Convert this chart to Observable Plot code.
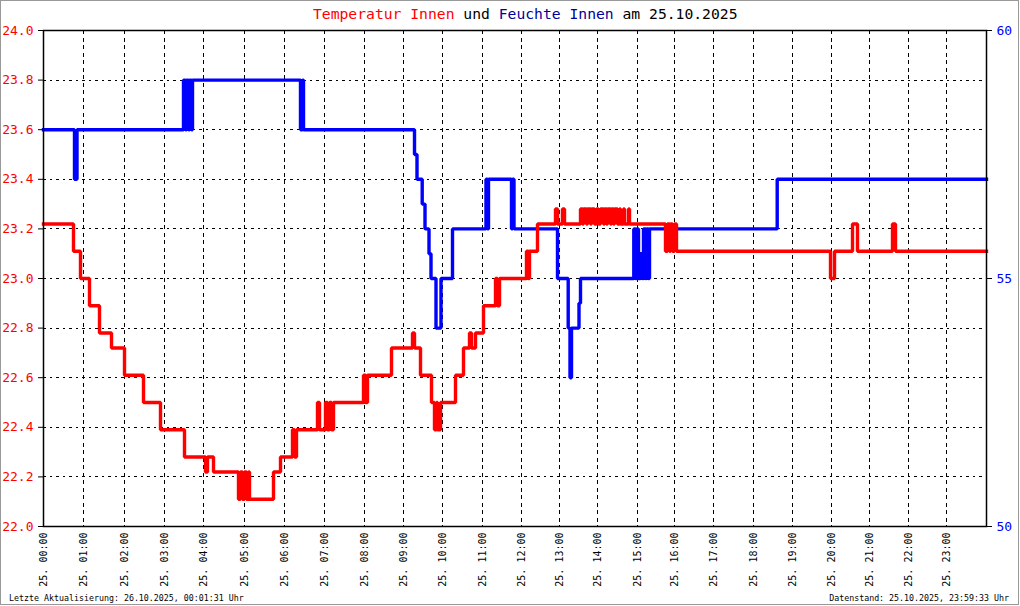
<!DOCTYPE html>
<html><head><meta charset="utf-8">
<script src="https://cdn.jsdelivr.net/npm/d3@7"></script>
<script src="https://cdn.jsdelivr.net/npm/@observablehq/plot@0.6"></script>
<style>
html,body{margin:0;padding:0;background:#fff;}
#wrap{position:relative;width:1020px;height:606px;overflow:hidden;font-family:"DejaVu Sans Mono",monospace;background:#fff;}
#border{position:absolute;left:0;top:0;width:1019px;height:605px;box-sizing:border-box;border:1px solid #999;pointer-events:none;}
#title{position:absolute;left:313px;top:6px;font-size:14.7px;line-height:15px;white-space:pre;color:#000;}
.foot{position:absolute;top:594px;font-size:8.3px;line-height:9px;white-space:pre;color:#000;}
#chart{position:absolute;left:0;top:0;}
</style></head><body>
<div id="wrap">
<div id="chart"></div>
<div id="title"><span style="color:#ff0000">Temperatur Innen</span> und <span style="color:#00009c">Feuchte Innen</span> am 25.10.2025</div>
<div class="foot" style="left:9px">Letzte Aktualisierung: 26.10.2025, 00:01:31 Uhr</div>
<div class="foot" style="right:11px">Datenstand: 25.10.2025, 23:59:33 Uhr</div>
<div id="border"></div>
</div>
<script>
// x = sample number (Messwert-Nr.) of the day; hour ticks sit at the first sample of each hour
const sampleCount = 943;
const hourTickIdx = [0, 40, 81, 121, 160, 201, 241, 281, 321, 360, 399, 439, 478, 516, 554, 594, 631, 670, 710, 749, 788, 826, 865, 903];
const hourLabels = ["25. 00:00","25. 01:00","25. 02:00","25. 03:00","25. 04:00","25. 05:00","25. 06:00","25. 07:00","25. 08:00","25. 09:00","25. 10:00","25. 11:00","25. 12:00","25. 13:00","25. 14:00","25. 15:00","25. 16:00","25. 17:00","25. 18:00","25. 19:00","25. 20:00","25. 21:00","25. 22:00","25. 23:00"];

// Temperatur Innen (°C) — change points (sample number, value)
const tempIdx = [
  0,30,37,46,56,68,81,100,117,141,
  162,164,170,195,197,199,201,203,205,206,
  230,237,249,251,253,274,276,282,284,286,
  288,290,320,322,324,348,369,371,377,388,
  391,393,394,397,412,420,426,428,432,440,
  452,454,456,483,485,486,494,512,514,519,
  521,537,539,540,543,544,547,548,551,553,
  555,557,560,561,563,564,567,568,570,571,
  574,576,577,580,581,585,586,622,624,626,
  627,629,631,633,787,791,809,814,849,852,
  943];
const tempVal = [
  23.22,23.11,23.00,22.89,22.78,22.72,22.61,22.50,22.39,22.28,
  22.22,22.28,22.22,22.11,22.22,22.11,22.22,22.11,22.22,22.11,
  22.22,22.28,22.39,22.28,22.39,22.50,22.39,22.50,22.39,22.50,
  22.39,22.50,22.61,22.50,22.61,22.72,22.78,22.72,22.61,22.50,
  22.39,22.50,22.39,22.50,22.61,22.72,22.78,22.72,22.78,22.89,
  23.00,22.89,23.00,23.11,23.00,23.11,23.22,23.28,23.22,23.28,
  23.22,23.28,23.22,23.28,23.22,23.28,23.22,23.28,23.22,23.28,
  23.22,23.28,23.22,23.28,23.22,23.28,23.22,23.28,23.22,23.28,
  23.22,23.28,23.22,23.28,23.22,23.28,23.22,23.11,23.22,23.11,
  23.22,23.11,23.22,23.11,23.00,23.11,23.22,23.11,23.22,23.11,
  23.11];

// Feuchte Innen (%) — change points (sample number, value)
const humIdx = [
  0,31,33.5,140,142,143,145,146,148,149,
  257,259,260,371,373.5,378.7,381.5,385.5,387.5,392.5,
  397.5,409,442.5,444,445,468,469,470.5,514,524.7,
  526.5,528,535.5,537,590.3,592,593,595,597,599,
  600,602,603,605,606,733.7,943];
const humVal = [
  58,57,58,59,58,59,58,59,58,59,
  58,59,58,57.5,57,56.5,56,55.5,55,54,
  55,56,57,56,57,56,57,56,55,54,
  53,54,54.5,55,56,55,56,55,55.5,55,
  56,55,56,55,56,57,57];

const tempTicks = [22.0,22.2,22.4,22.6,22.8,23.0,23.2,23.4,23.6,23.8,24.0];
const humTicks = [50,55,60];

// humidity 50..60 % shares the frame with temperature 22..24 °C
const humToT = h => 22 + (h - 50) / 5;
const tToHum = t => 50 + (t - 22) * 5;

const temp = tempIdx.map((x, i) => ({x, v: tempVal[i]}));
const hum = humIdx.map((x, i) => ({x, v: humVal[i]}));
const labelOf = new Map(hourTickIdx.map((d, i) => [d, hourLabels[i]]));
const font = "DejaVu Sans Mono";

const chart = Plot.plot({
  width: 1020,
  height: 606,
  marginLeft: 43,
  marginRight: 34,
  marginTop: 30,
  marginBottom: 80,
  style: {fontFamily: font, background: "transparent", overflow: "visible"},
  x: {type: "linear", domain: [0, sampleCount], axis: null},
  y: {type: "linear", domain: [22, 24], axis: null},
  marks: [
    Plot.ruleY(tempTicks.filter(t => t > 22.05 && t < 23.95), {stroke: "black", strokeWidth: 1, strokeDasharray: "2.5,4", shapeRendering: "crispEdges"}),
    Plot.ruleX(hourTickIdx.filter(d => d > 0), {stroke: "black", strokeWidth: 1, strokeDasharray: "4,3.5", shapeRendering: "crispEdges"}),
    Plot.line(hum, {x: "x", y: d => humToT(d.v), curve: "step-after", stroke: "#0000ff", strokeWidth: 3.4, strokeLinejoin: "miter", strokeLinecap: "square"}),
    Plot.line(temp, {x: "x", y: "v", curve: "step-after", stroke: "#ff0000", strokeWidth: 3.4, strokeLinejoin: "miter", strokeLinecap: "square"}),
    Plot.frame({stroke: "black", strokeWidth: 1.5}),
    Plot.axisY(tempTicks, {anchor: "left", tickSize: 5, tickPadding: 5, tickFormat: d => d.toFixed(1), stroke: "black", fill: "#ff0000", fontSize: 13, fontFamily: font, label: null}),
    Plot.axisY(humTicks.map(humToT), {anchor: "right", tickSize: 5, tickPadding: 5, tickFormat: t => String(Math.round(tToHum(t))), stroke: "black", fill: "#0000ff", fontSize: 13, fontFamily: font, label: null}),
    Plot.axisX(hourTickIdx, {anchor: "bottom", tickSize: 0, tickPadding: 6, tickRotate: -90, tickFormat: d => labelOf.get(d), fill: "black", fontSize: 10, fontFamily: font, label: null})
  ]
});
document.getElementById("chart").appendChild(chart);
</script>
</body></html>
